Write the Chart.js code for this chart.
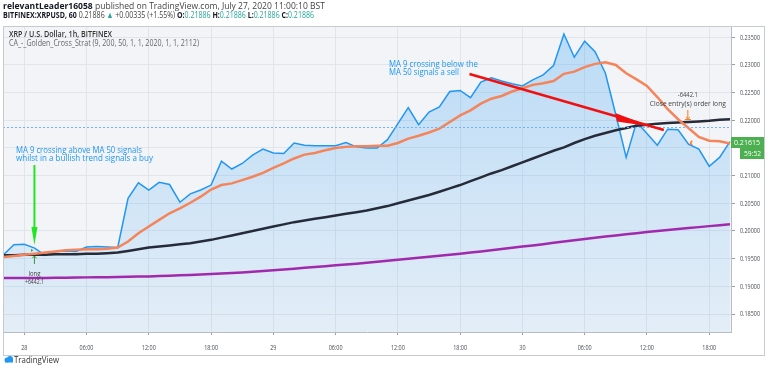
<!DOCTYPE html>
<html><head><meta charset="utf-8">
<script src="https://cdn.jsdelivr.net/npm/chart.js@4/dist/chart.umd.min.js"></script>
<style>html,body{margin:0;padding:0;background:#fff}canvas{display:block}</style>
</head><body>
<canvas id="c" width="768" height="368"></canvas>
<script>
// hours relative to 28 Jul 00:00
const hours = [-2,-1,0,1,2,3,4,5,6,7,8,9,10,11,12,13,14,15,16,17,18,19,20,21,22,23,24,25,26,27,28,29,30,31,32,33,34,35,36,37,38,39,40,41,42,43,44,45,46,47,48,49,50,51,52,53,54,55,56,57,58,59,60,61,62,63,64,65,66,67,68];
const price = [0.1957,0.1975,0.1976,0.1969,0.1956,0.1963,0.1964,0.1963,0.1971,0.1972,0.1971,0.1970,
  0.2059,0.2087,0.2074,0.2088,0.2084,0.2052,0.2067,0.2074,0.2083,0.2126,0.2112,0.2122,0.2137,0.2148,
  0.2141,0.2140,0.2159,0.2155,0.2154,0.2154,0.2154,0.2160,0.2152,0.2150,0.2150,0.2165,0.2194,0.2223,
  0.2192,0.2215,0.2224,0.2252,0.2254,0.2241,0.2269,0.2277,0.2271,0.2266,0.2262,0.2273,0.2282,0.2299,
  0.2356,0.2314,0.2343,0.2324,0.2285,0.2210,0.2133,0.2197,0.2176,0.2155,0.2184,0.2183,0.2157,0.2148,
  0.2117,0.2133,0.21615];
const ma9 = [0.1953,0.1955,0.1957,0.1959,0.1961,0.1963,0.1965,0.1966,0.1967,0.1967,0.1968,0.1970,
  0.1981,0.1996,0.2008,0.2020,0.2032,0.2041,0.2051,0.2062,0.2075,0.2083,0.2086,0.2092,0.2098,0.2105,
  0.2114,0.2122,0.2131,0.2138,0.2141,0.2146,0.2150,0.2152,0.2153,0.2153,0.2154,0.2154,0.2159,0.2167,
  0.2172,0.2178,0.2185,0.2197,0.2209,0.2218,0.2230,0.2239,0.2244,0.2252,0.2258,0.2264,0.2267,0.2271,
  0.2284,0.2288,0.2296,0.2302,0.2305,0.2300,0.2285,0.2274,0.2262,0.2242,0.2220,0.2202,0.2186,0.2170,
  0.2163,0.2162,0.2158];
const ma50 = [0.1956,0.1956,0.1957,0.1957,0.1957,0.1958,0.1958,0.1958,0.1959,0.1959,0.1960,0.1961,
  0.1964,0.1967,0.1970,0.1972,0.1974,0.1976,0.1978,0.1981,0.1984,0.1988,0.1992,0.1996,0.2000,0.2004,
  0.2008,0.2012,0.2016,0.2019,0.2022,0.2025,0.2028,0.2031,0.2034,0.2037,0.2041,0.2045,0.2050,0.2055,
  0.2060,0.2065,0.2071,0.2077,0.2083,0.2090,0.2097,0.2104,0.2110,0.2117,0.2124,0.2131,0.2138,0.2145,
  0.2151,0.2159,0.2166,0.2172,0.2177,0.2182,0.2186,0.2190,0.2192,0.2194,0.2195,0.2196,0.2197,0.2198,
  0.2199,0.2201,0.2202];
const ma200 = [0.19150,0.19150,0.19150,0.19150,0.19152,0.19155,0.19157,0.19160,0.19162,0.19164,0.19166,0.19168,
  0.19172,0.19176,0.19180,0.19186,0.19192,0.19200,0.19207,0.19214,0.19222,0.19230,0.19240,0.19250,0.19262,0.19275,
  0.19290,0.19305,0.19320,0.19335,0.19350,0.19365,0.19380,0.19395,0.19410,0.19428,0.19446,0.19464,0.19482,0.19500,
  0.19518,0.19536,0.19554,0.19572,0.19590,0.19610,0.19630,0.19652,0.19674,0.19696,0.19718,0.19740,0.19762,0.19786,
  0.19810,0.19834,0.19856,0.19878,0.19900,0.19920,0.19940,0.19960,0.19980,0.19998,0.20016,0.20034,0.20052,0.20070,
  0.20088,0.20104,0.20120];
const xTickHours = [0,6,12,18,24,30,36,42,48,54,60,66];
const xTickLabels = ['28','06:00','12:00','18:00','29','06:00','12:00','18:00','30','06:00','12:00','18:00'];
const yTicks = [0.185,0.190,0.195,0.200,0.205,0.210,0.215,0.220,0.225,0.230,0.235];
const lastClose = 0.21886;
const lastPrice = 0.21615;
const countdown = '59:52';

const FONT = '"Open Sans","Liberation Sans",sans-serif';
function textW(ctx, s, size, weight){ ctx.font = `${weight||'normal'} ${size}px ${FONT}`; return ctx.measureText(s).width; }
function drawText(ctx, s, x, y, o){
  o = o || {};
  const size = o.size || 9, weight = o.weight || 'normal';
  ctx.save();
  const w = textW(ctx, s, size, weight);
  const k = o.width ? o.width / w : (o.sx || 0.75);
  ctx.translate(x, y); ctx.scale(k, 1);
  ctx.textAlign = o.align || 'left'; ctx.textBaseline = 'middle';
  ctx.fillStyle = o.color || '#333';
  ctx.fillText(s, 0, 0);
  ctx.restore();
}
function drawRuns(ctx, runs, x, y, targetW, size){
  ctx.save();
  let total = 0;
  runs.forEach(r => { r.w = textW(ctx, r.t, size, r.b ? 'bold' : 'normal'); total += r.w; });
  const k = targetW / total;
  ctx.translate(x, y); ctx.scale(k, 1); ctx.textBaseline = 'middle'; ctx.textAlign = 'left';
  let cx = 0;
  runs.forEach(r => { ctx.font = `${r.b?'bold':'normal'} ${size}px ${FONT}`; ctx.fillStyle = r.c || '#333'; ctx.fillText(r.t, cx, 0); cx += r.w; });
  ctx.restore();
}

const decor = {
  id: 'decor',
  beforeDraw(chart){
    const {ctx, chartArea:a} = chart;
    ctx.save();
    ctx.fillStyle = '#fff'; ctx.fillRect(0,0,chart.width,chart.height);
    ctx.fillStyle = '#f2f4f7'; ctx.fillRect(a.left, a.top, a.right-a.left, a.bottom-a.top);
    ctx.restore();
  },
  afterDatasetsDraw(chart){
    const {ctx, chartArea:a} = chart;
    const xs = chart.scales.x, ys = chart.scales.y;
    const X = h => xs.getPixelForValue(h), Y = v => ys.getPixelForValue(v);
    ctx.save();
    // dotted last-close line
    ctx.strokeStyle = '#6fb3f2'; ctx.lineWidth = 1; ctx.setLineDash([2,2]);
    ctx.beginPath(); ctx.moveTo(a.left, Math.round(Y(lastClose))+0.5); ctx.lineTo(a.right, Math.round(Y(lastClose))+0.5); ctx.stroke();
    ctx.setLineDash([]);
    // buy note
    const blue = '#2196f3';
    drawText(ctx, 'MA 9 crossing above MA 50 signals', X(-0.8), Y(0.21464), {width:126, color:blue, size:9});
    drawText(ctx, 'whilst in a bullish trend signals a buy', X(-0.8), Y(0.21310), {width:137, color:blue, size:9});
    // sell note
    drawText(ctx, 'MA 9 crossing below the', X(35.14), Y(0.23018), {width:89, color:blue, size:9});
    drawText(ctx, 'MA 50 signals a sell', X(35.14), Y(0.22873), {width:70, color:blue, size:9});
    // green arrow
    const gx = X(0.98);
    ctx.strokeStyle = '#22e622'; ctx.fillStyle = '#22e622'; ctx.lineWidth = 2;
    ctx.beginPath(); ctx.moveTo(gx, Y(0.21192)); ctx.lineTo(gx, Y(0.20072)); ctx.stroke();
    ctx.beginPath(); ctx.moveTo(gx-3, Y(0.20072)); ctx.lineTo(gx+3, Y(0.20072)); ctx.lineTo(gx, Y(0.19747)); ctx.closePath(); ctx.fill();
    // long marker
    ctx.strokeStyle = '#2e9e3a'; ctx.fillStyle = '#2e9e3a'; ctx.lineWidth = 1;
    ctx.beginPath(); ctx.moveTo(gx, Y(0.19548)); ctx.lineTo(gx, Y(0.19403)); ctx.stroke();
    ctx.beginPath(); ctx.moveTo(gx-2, Y(0.19510)); ctx.lineTo(gx, Y(0.19548)); ctx.lineTo(gx+2, Y(0.19510)); ctx.stroke();
    ctx.beginPath(); ctx.moveTo(X(0.66), Y(0.19680)); ctx.lineTo(X(0.66), Y(0.19620)); ctx.lineTo(X(0.85), Y(0.19650)); ctx.closePath(); ctx.fill();
    drawText(ctx, 'long', gx, Y(0.19222), {width:12, align:'center', color:'#444', size:8});
    drawText(ctx, '+6442.1', gx, Y(0.19077), {width:19, align:'center', color:'#444', size:8});
    // red arrow
    ctx.strokeStyle = '#f01010'; ctx.fillStyle = '#f01010'; ctx.lineWidth = 2.5;
    ctx.beginPath(); ctx.moveTo(X(42.90), Y(0.22837)); ctx.lineTo(X(61.63), Y(0.21825)); ctx.stroke();
    ctx.beginPath(); ctx.moveTo(X(57.00), Y(0.22127)); ctx.lineTo(X(57.10), Y(0.21979)); ctx.lineTo(X(60.38), Y(0.21888)); ctx.closePath(); ctx.fill();
    // close note
    const ox = X(63.94);
    drawText(ctx, '-6442.1', ox, Y(0.22457), {width:20, align:'center', color:'#444', size:8});
    drawText(ctx, 'Close entry(s) order long', ox, Y(0.22295), {width:76, align:'center', color:'#444', size:8});
    ctx.strokeStyle = '#ff7a1a'; ctx.lineWidth = 1;
    ctx.beginPath(); ctx.moveTo(ox, Y(0.22186)); ctx.lineTo(ox, Y(0.22024)); ctx.stroke();
    ctx.beginPath(); ctx.moveTo(ox-2, Y(0.22060)); ctx.lineTo(ox, Y(0.22024)); ctx.lineTo(ox+2, Y(0.22060)); ctx.stroke();
    ctx.beginPath(); ctx.moveTo(ox-3, Y(0.22024)+0.5); ctx.lineTo(ox+3, Y(0.22024)+0.5); ctx.stroke();
    ctx.lineWidth = 1.5;
    ctx.beginPath(); ctx.moveTo(X(64.35), Y(0.21630)); ctx.lineTo(X(64.2), Y(0.21590)); ctx.lineTo(X(64.35), Y(0.21555)); ctx.stroke();
    ctx.restore();
  },
  afterDraw(chart){
    const {ctx, chartArea:a} = chart;
    const xs = chart.scales.x, ys = chart.scales.y;
    ctx.save();
    // frame
    ctx.strokeStyle = '#c6cad1'; ctx.lineWidth = 1;
    ctx.strokeRect(3.5, 26.5, 761, 329);
    // y labels
    yTicks.forEach(v => drawText(ctx, v.toFixed(5), a.right + 9, ys.getPixelForValue(v), {size:8, width:20, color:'#4a4e58'}));
    // x labels
    xTickHours.forEach((h,i) => drawText(ctx, xTickLabels[i], xs.getPixelForValue(h), 348, {size:8, sx:0.68, align:'center', color:'#4a4e58'}));
    // price badges
    const py = Math.round(ys.getPixelForValue(lastPrice));
    ctx.fillStyle = '#4caf50';
    ctx.fillRect(a.right, py-5, 33, 11);
    ctx.fillRect(a.right+9, py+6, 24, 11);
    drawText(ctx, lastPrice.toFixed(5), a.right+3, py+0.5, {size:8, width:26, color:'#fff'});
    drawText(ctx, countdown, a.right+13, py+11.5, {size:8, width:17, color:'#fff'});
    // in-chart title
    drawText(ctx, 'XRP / U.S. Dollar, 1h, BITFINEX', 9, 34, {size:9, weight:'600', width:103, color:'#333'});
    drawText(ctx, 'CA_-_Golden_Cross_Strat (9, 200, 50, 1, 1, 2020, 1, 1, 2112)', 9, 43.5, {size:9, width:190, color:'#666'});
    // header
    const dark = '#131722', teal = '#26a69a', grey = '#444';
    drawRuns(ctx, [{t:'relevantLeader16058', b:1, c:dark}, {t:' published on TradingView.com, July 27, 2020 11:00:10 BST', c:grey}], 3, 6, 322, 9);
    const v = lastClose.toFixed(5);
    drawRuns(ctx, [{t:'BITFINEX:XRPUSD, 60', b:1, c:dark}, {t:' '+v+' ', c:grey}, {t:'▲', c:teal}, {t:' +0.00335 (+1.55%) ', c:grey},
      {t:'O:', b:1, c:dark}, {t:v+' ', c:teal}, {t:'H:', b:1, c:dark}, {t:v+' ', c:teal},
      {t:'L:', b:1, c:dark}, {t:v+' ', c:teal}, {t:'C:', b:1, c:dark}, {t:v, c:teal}], 3, 15.5, 311, 9);
    // logo
    ctx.fillStyle = '#2196f3';
    ctx.beginPath(); ctx.arc(7, 360, 2.5, 0, Math.PI*2); ctx.fill();
    ctx.beginPath(); ctx.arc(10, 359, 3, 0, Math.PI*2); ctx.fill();
    ctx.fillRect(5, 359.5, 8, 3);
    drawText(ctx, 'TradingView', 14, 360, {size:9, width:45, color:'#333'});
    ctx.restore();
  }
};

const pts = arr => hours.map((h,i) => ({x:h, y:arr[i]}));
new Chart(document.getElementById('c'), {
  type: 'line',
  data: { datasets: [
    { label:'MA 9', data:pts(ma9), borderColor:'#f5845a', borderWidth:2.5, pointRadius:0, tension:0, fill:false, order:1 },
    { label:'MA 50', data:pts(ma50), borderColor:'#262b3a', borderWidth:2.5, pointRadius:0, tension:0, fill:false, order:2 },
    { label:'MA 200', data:pts(ma200), borderColor:'#a129ad', borderWidth:2.5, pointRadius:0, tension:0, fill:false, order:3 },
    { label:'XRPUSD', data:pts(price), borderColor:'#2196f3', borderWidth:1.5, pointRadius:0, tension:0, order:4,
      fill:'start',
      backgroundColor: c => { const {ctx, chartArea} = c.chart; if(!chartArea) return 'rgba(33,150,243,0.2)';
        const g = ctx.createLinearGradient(0, chartArea.top, 0, chartArea.bottom);
        g.addColorStop(0, 'rgba(33,150,243,0.27)'); g.addColorStop(1, 'rgba(33,150,243,0.07)'); return g; } }
  ]},
  options: {
    responsive:false, animation:false, maintainAspectRatio:false,
    layout:{ padding:{ left:3, top:26, right:3, bottom:13 } },
    plugins:{ legend:{display:false}, tooltip:{enabled:false}, filler:{ drawTime:'beforeDatasetsDraw' } },
    scales:{
      x:{ type:'linear', min:-2.05, max:68.1,
        afterBuildTicks: s => { s.ticks = xTickHours.map(v => ({value:v})); },
        afterFit: s => { s.height = 23; },
        ticks:{ display:false },
        grid:{ color:'#e1e5ea', tickColor:'#9a9ea8', tickLength:3, drawTicks:true },
        border:{ color:'#b8bcc4' } },
      y:{ position:'right', min:0.18175, max:0.23704,
        afterBuildTicks: s => { s.ticks = yTicks.map(v => ({value:v})); },
        afterFit: s => { s.width = 34; },
        ticks:{ display:false },
        grid:{ color:'#e1e5ea', tickColor:'#9a9ea8', tickLength:4, drawTicks:true },
        border:{ color:'#b8bcc4' } }
    }
  },
  plugins:[decor]
});
</script>
</body></html>
